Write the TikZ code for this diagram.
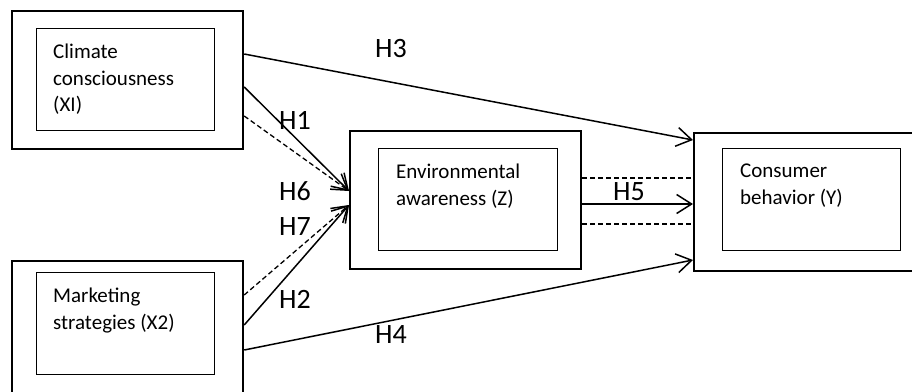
\documentclass[tikz,border=0pt]{standalone}
\usepackage{fontspec}
\setmainfont{Carlito}
\usetikzlibrary{arrows.meta}
\begin{document}
\begin{tikzpicture}[x=1pt,y=-1pt,
  outerbox/.style={draw, line width=2.2pt, anchor=north west, inner sep=0pt, minimum width=231pt, minimum height=138pt},
  innerbox/.style={draw, line width=1.2pt, anchor=north west, inner sep=0pt, minimum width=178pt, minimum height=102pt},
  boxtext/.style={anchor=north west, inner sep=0pt, align=left, font=\fontsize{21}{26.5}\selectfont},
  hlabel/.style={anchor=base, inner sep=0pt, font=\fontsize{28}{30}\selectfont},
  link/.style={line width=1.5pt, -{Straight Barb[length=15pt,width=19pt,line width=1.5pt]}},
  dlink/.style={line width=1.3pt, dash pattern=on 5pt off 3pt, -{Straight Barb[length=15pt,width=19pt,line width=1.5pt]}},
  dline/.style={line width=1.3pt, dash pattern=on 5pt off 3pt}]
\useasboundingbox (0,0) rectangle (912,391);
% boxes
\node[outerbox] (x1o) at (11,10) {};
\node[innerbox] (x1i) at (36,28) {};
\node[boxtext] (x1t) at (53,44) {Climate\\consciousness\\(XI)};
\node[outerbox] (x2o) at (11,260) {};
\node[innerbox] (x2i) at (36,272) {};
\node[boxtext] (x2t) at (53,288) {Marketing\\strategies (X2)};
\node[outerbox] (zo) at (349,130) {};
\node[innerbox, minimum width=179pt] (zi) at (378,148) {};
\node[boxtext] (zt) at (396,164) {Environmental\\awareness (Z)};
\node[outerbox] (yo) at (693,132) {};
\node[innerbox] (yi) at (722,148) {};
\node[boxtext] (yt) at (740,164) {Consumer\\behavior (Y)};
% connector points
\coordinate (s3) at ([yshift=-44pt]x1o.north east);
\coordinate (s1) at ([yshift=-77pt]x1o.north east);
\coordinate (s6) at ([yshift=-106pt]x1o.north east);
\coordinate (s7) at ([yshift=-35pt]x2o.north east);
\coordinate (s2) at ([yshift=-65pt]x2o.north east);
\coordinate (s4) at ([yshift=-90pt]x2o.north east);
\coordinate (zin1) at ([yshift=-61pt]zo.north west);
\coordinate (zin2) at ([yshift=-75pt]zo.north west);
\coordinate (yin3) at ([yshift=-8pt]yo.north west);
\coordinate (yin4) at ([yshift=-128pt]yo.north west);
\coordinate (z5) at ([yshift=-74pt]zo.north east);
\coordinate (z5a) at ([yshift=-48pt]zo.north east);
\coordinate (z5b) at ([yshift=-94pt]zo.north east);
% connectors
\draw[link] (s3) -- (yin3);
\draw[link] (s1) -- (zin1);
\draw[dlink] (s6) -- (zin1);
\draw[dlink] (s7) -- (zin2);
\draw[link] (s2) -- (zin2);
\draw[link] (s4) -- (yin4);
\draw[link] (z5) -- (z5 -| yo.west);
\draw[dline] (z5a) -- (z5a -| yo.west);
\draw[dline] (z5b) -- (z5b -| yo.west);
% labels
\node[hlabel] (h3) at (391,57) {H3};
\node[hlabel] (h1) at (295,129) {H1};
\node[hlabel] (h6) at (295,200) {H6};
\node[hlabel] (h7) at (295,235) {H7};
\node[hlabel] (h2) at (295,308) {H2};
\node[hlabel] (h4) at (391,343) {H4};
\node[hlabel] (h5) at (629,200) {H5};
\end{tikzpicture}
\end{document}
